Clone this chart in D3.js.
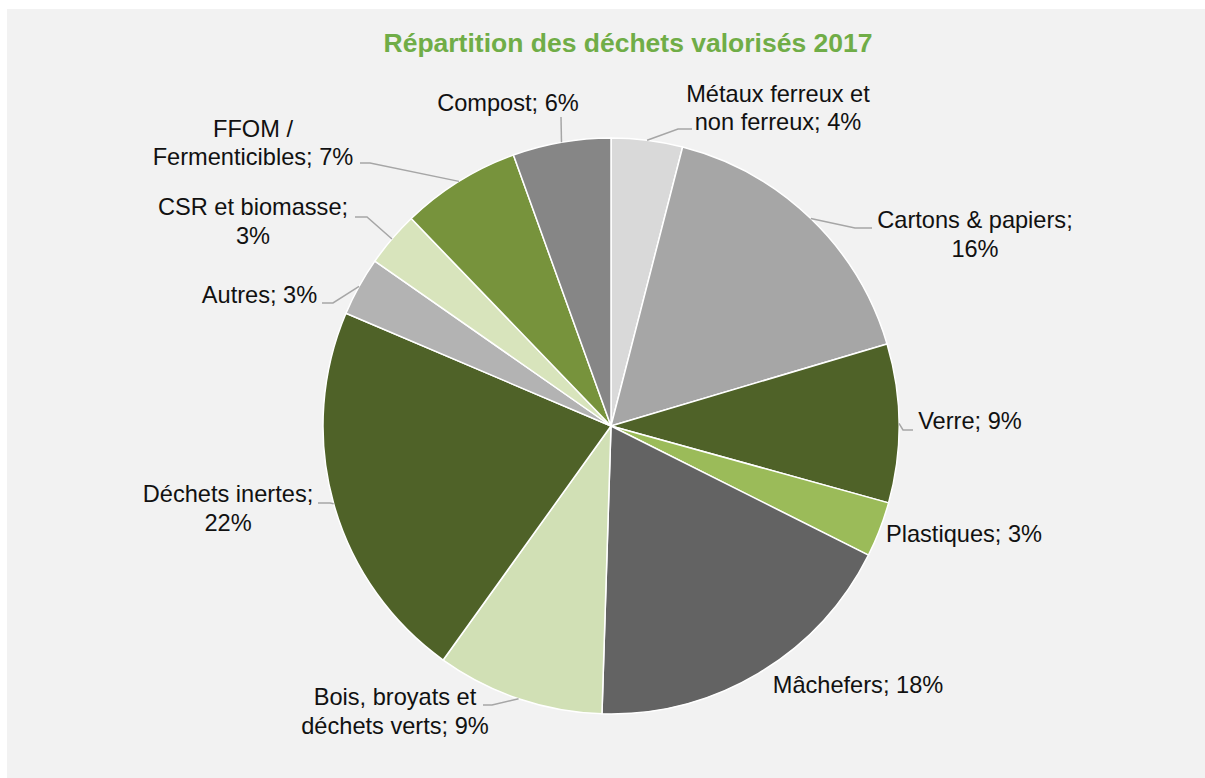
<!DOCTYPE html>
<html>
<head>
<meta charset="utf-8">
<script src="https://cdn.jsdelivr.net/npm/d3@7"></script>
<style>
  html, body { margin: 0; padding: 0; background: #ffffff; }
  svg { display: block; }
</style>
</head>
<body>
<svg id="chart" width="1205" height="778"></svg>
<script>
// ---- Data ----
const categories = [
  "Métaux ferreux et non ferreux",
  "Cartons & papiers",
  "Verre",
  "Plastiques",
  "Mâchefers",
  "Bois, broyats et déchets verts",
  "Déchets inertes",
  "Autres",
  "CSR et biomasse",
  "FFOM / Fermenticibles",
  "Compost"
];
const values = [4.0, 16.4, 8.9, 3.1, 18.1, 9.4, 21.5, 3.3, 3.1, 6.7, 5.5];
// how each label text is broken into lines (label = category + "; " + pct)
const labelLines = [
  ["Métaux ferreux et", "non ferreux; {p}"],
  ["Cartons & papiers;", "{p}"],
  ["Verre; {p}"],
  ["Plastiques; {p}"],
  ["Mâchefers; {p}"],
  ["Bois, broyats et", "déchets verts; {p}"],
  ["Déchets inertes;", "{p}"],
  ["Autres; {p}"],
  ["CSR et biomasse;", "{p}"],
  ["FFOM /", "Fermenticibles; {p}"],
  ["Compost; {p}"]
];
const title = "Répartition des déchets valorisés 2017";

// ---- Styles / layout ----
const colors = ["#d9d9d9", "#a6a6a6", "#4f6228", "#9bbb59", "#636363", "#d1e0b5",
                "#4f6228", "#b3b3b3", "#d8e4bc", "#77933c", "#868686"];
const cx = 611, cy = 426, R = 288;
// label anchor (text middle, first baseline) relative to pie centre, and leader path
// leader: [elbowDx, elbowDy, endDx] relative to centre, or null
const labelLayout = [
  { x: 167,  y: -324.5, leader: [67, -297, 81] },
  { x: 364,  y: -198,   leader: [244, -198, 261] },
  { x: 359,  y: 3,      leader: [292, 4, 302] },
  { x: 353,  y: 115.5,  leader: null },
  { x: 247,  y: 267,    leader: null },
  { x: -216, y: 279,    leader: [-119, 279, -128] },
  { x: -383, y: 76,     leader: [-281, 77, -293] },
  { x: -351.5, y: -123, leader: [-278, -123, -289] },
  { x: -358, y: -211,   leader: [-244, -209, -256] },
  { x: -358, y: -289.5, leader: [-241, -263, -251] },
  { x: -103, y: -315,   leader: [-50, -309, -50] }
];
const lineH = 28.5;

const svg = d3.select("#chart");

svg.append("rect")
  .attr("x", 7).attr("y", 9)
  .attr("width", 1198).attr("height", 769)
  .attr("fill", "#f2f2f2");

svg.append("text")
  .attr("x", 628).attr("y", 51.5)
  .attr("text-anchor", "middle")
  .attr("font-family", "Liberation Sans, Arial, sans-serif")
  .attr("font-weight", "bold")
  .attr("font-size", "26.5px")
  .attr("fill", "#70ad47")
  .text(title);

const pie = d3.pie().sort(null).value(d => d)(values);
const arc = d3.arc().innerRadius(0).outerRadius(R);
const edgeArc = d3.arc().innerRadius(R).outerRadius(R);

const g = svg.append("g").attr("transform", `translate(${cx},${cy})`);

g.selectAll("path.slice")
  .data(pie)
  .join("path")
  .attr("class", "slice")
  .attr("d", arc)
  .attr("fill", (d, i) => colors[i])
  .attr("stroke", "#ffffff")
  .attr("stroke-width", 1.5)
  .attr("stroke-linejoin", "round");

// leader lines
g.selectAll("path.leader")
  .data(pie.filter((d, i) => labelLayout[i].leader))
  .join("path")
  .attr("class", "leader")
  .attr("fill", "none")
  .attr("stroke", "#a6a6a6")
  .attr("stroke-width", 1.5)
  .attr("d", d => {
    const L = labelLayout[d.index].leader;
    const a = (d.startAngle + d.endAngle) / 2;
    const sx = R * Math.sin(a), sy = -R * Math.cos(a);
    return `M${sx},${sy}L${L[0]},${L[1]}L${L[2]},${L[1]}`;
  });

// labels
const pct = values.map(v => Math.round(v) + "%");
const labels = g.selectAll("text.lbl")
  .data(pie)
  .join("text")
  .attr("class", "lbl")
  .attr("text-anchor", "middle")
  .attr("font-family", "Liberation Sans, Arial, sans-serif")
  .attr("font-size", "23.6px")
  .attr("fill", "#111111")
  .attr("x", (d, i) => labelLayout[i].x)
  .attr("y", (d, i) => labelLayout[i].y);

labels.each(function(d, i) {
  const t = d3.select(this);
  labelLines[i].forEach((ln, k) => {
    t.append("tspan")
      .attr("x", labelLayout[i].x)
      .attr("dy", k === 0 ? 0 : lineH)
      .text(ln.replace("{p}", pct[i]));
  });
});
</script>
</body>
</html>
